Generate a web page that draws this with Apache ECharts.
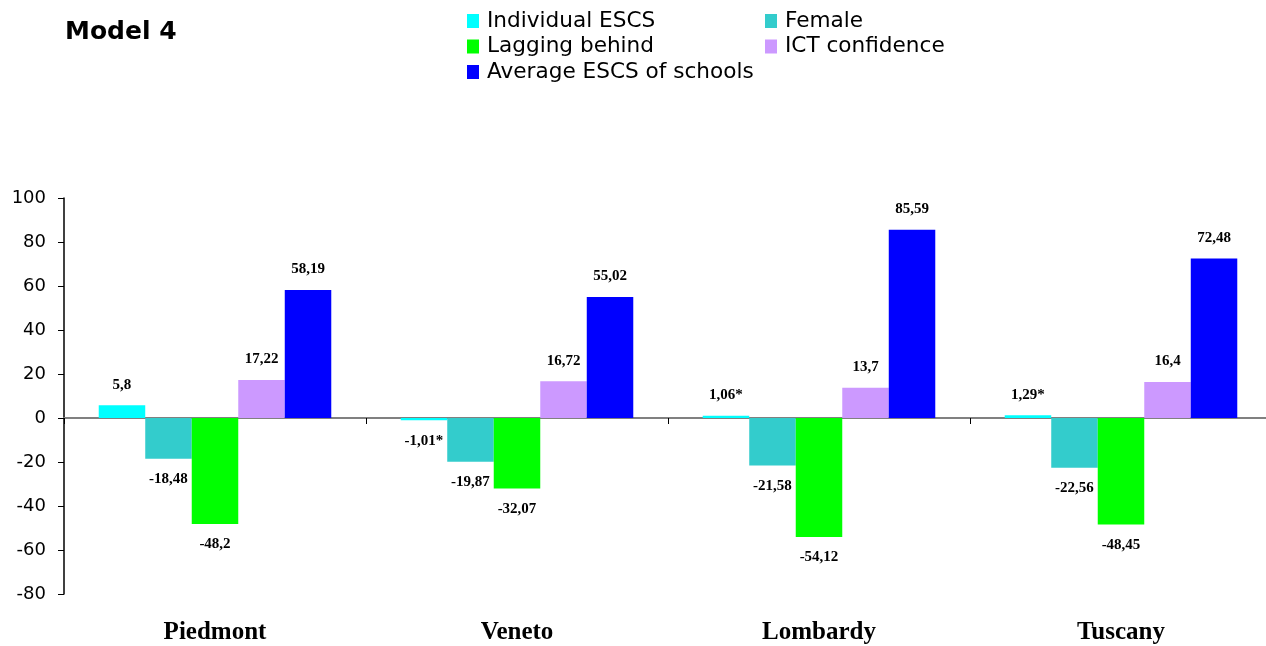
<!DOCTYPE html>
<html>
<head>
<meta charset="utf-8">
<script src="https://cdn.jsdelivr.net/npm/echarts@6/dist/echarts.min.js"></script>
<style>
  html, body { margin: 0; padding: 0; background: #fff; overflow: hidden; }
  #chart { width: 1272px; height: 646px; }
</style>
</head>
<body>
<div id="chart"></div>
<script>
// Regional regression coefficients (Model 4)
const regions = ['Piedmont', 'Veneto', 'Lombardy', 'Tuscany'];
const individualEscs = [5.8, -1.01, 1.06, 1.29];
const female = [-18.48, -19.87, -21.58, -22.56];
const laggingBehind = [-48.2, -32.07, -54.12, -48.45];
const ictConfidence = [17.22, 16.72, 13.7, 16.4];
const avgSchoolEscs = [58.19, 55.02, 85.59, 72.48];
// coefficients marked with an asterisk
const individualEscsStar = [false, true, true, true];
const yTicks = { min: -80, max: 100, step: 20 };

const fmt = (v, star) => String(v).replace('.', ',') + (star ? '*' : '');

function makeSeries(name, values, color, stars) {
  return {
    name: name,
    type: 'bar',
    xAxisIndex: 0,
    barGap: 0,
    barCategoryGap: '23%',
    itemStyle: { color: color },
    data: values.map((v, i) => ({
      value: v,
      label: {
        show: true,
        position: v >= 0 ? 'top' : 'bottom',
        distance: 13,
        formatter: () => fmt(v, stars && stars[i]),
        fontFamily: '"Liberation Serif", serif',
        fontWeight: 'bold',
        fontSize: 15,
        color: '#000'
      }
    }))
  };
}

const chart = echarts.init(document.getElementById('chart'));
const legendText = {
  fontFamily: '"DejaVu Sans", Verdana, sans-serif',
  fontSize: 21.6,
  lineHeight: 22,
  color: '#000',
  padding: [0, 0, 0, 3]
};
chart.setOption({
  animation: false,
  title: {
    text: 'Model 4',
    left: 60,
    top: 15,
    textStyle: {
      fontFamily: '"DejaVu Sans", Tahoma, sans-serif',
      fontWeight: 'bold',
      fontSize: 25,
      color: '#000'
    }
  },
  legend: [
    {
      data: ['Individual ESCS', 'Lagging behind', 'Average ESCS of schools'],
      orient: 'vertical',
      left: 467,
      top: 10,
      padding: 0,
      itemWidth: 12,
      itemHeight: 14,
      itemGap: 3.5,
      icon: 'rect',
      textStyle: legendText
    },
    {
      data: ['Female', 'ICT confidence'],
      orient: 'vertical',
      left: 765,
      top: 10,
      padding: 0,
      itemWidth: 12,
      itemHeight: 14,
      itemGap: 3.5,
      icon: 'rect',
      textStyle: legendText
    }
  ],
  grid: { left: 64, top: 198, bottom: 52, right: 0, containLabel: false },
  xAxis: [
    {
      type: 'category',
      data: regions,
      position: 'bottom',
      axisLine: { onZero: true, lineStyle: { color: '#808080', width: 2 } },
      axisTick: { show: true, length: 6, lineStyle: { color: '#000', width: 1 } },
      axisLabel: { show: false },
      splitLine: { show: false }
    },
    {
      type: 'category',
      data: regions,
      position: 'bottom',
      axisLine: { show: false, onZero: false },
      axisTick: { show: false },
      axisLabel: {
        show: true,
        margin: 26,
        fontFamily: '"Liberation Serif", serif',
        fontWeight: 'bold',
        fontSize: 25,
        color: '#000'
      },
      splitLine: { show: false }
    }
  ],
  yAxis: {
    type: 'value',
    min: yTicks.min,
    max: yTicks.max,
    interval: yTicks.step,
    axisLine: { show: true, lineStyle: { color: '#000', width: 1.5 } },
    axisTick: { show: true, inside: false, length: 6, lineStyle: { color: '#000' } },
    axisLabel: {
      margin: 18,
      fontFamily: '"DejaVu Sans", Tahoma, sans-serif',
      fontSize: 18,
      color: '#000'
    },
    splitLine: { show: false }
  },
  series: [
    makeSeries('Individual ESCS', individualEscs, '#00FFFF', individualEscsStar),
    makeSeries('Female', female, '#33CCCC'),
    makeSeries('Lagging behind', laggingBehind, '#00FF00'),
    makeSeries('ICT confidence', ictConfidence, '#CC99FF'),
    makeSeries('Average ESCS of schools', avgSchoolEscs, '#0000FF')
  ]
});
</script>
</body>
</html>
